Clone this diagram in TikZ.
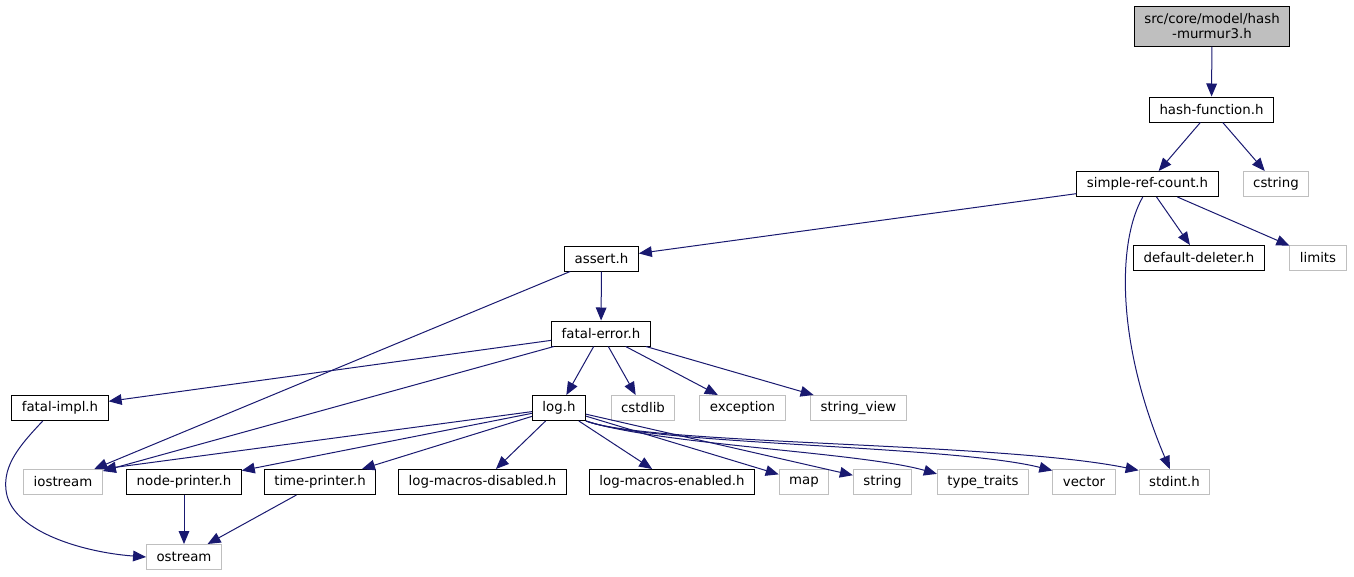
\documentclass[tikz,border=0pt]{standalone}
\usepackage{fontspec}
\setmainfont{DejaVu Sans}
\usepackage{tikz}
\usetikzlibrary{arrows.meta}
\definecolor{edgeblue}{RGB}{25,25,112}
\definecolor{sysgray}{RGB}{191,191,191}

\begin{document}
\begin{tikzpicture}[x=0.75pt, y=-0.75pt, font=\fontsize{10}{11.5}\selectfont,
    file/.style={draw=black, line width=0.75pt, inner xsep=7.5pt, inner ysep=0pt, minimum height=18.75pt},
    sysfile/.style={file, draw=sysgray},
    inc/.style={draw=edgeblue, line width=0.75pt, -{Triangle[length=9.75pt, width=8pt]}}]
    \useasboundingbox (0,0) rectangle (1354,576);

    % Header files
    \node[file, fill=sysgray, minimum height=30pt, align=center] (murmur) at (1212,26) {src/core/model/hash\\-murmur3.h};
    \node[file] (hashfn) at (1211.5,109.5) {hash-function.h};
    \node[file] (refcount) at (1147.5,184) {simple-ref-count.h};
    \node[sysfile] (cstring) at (1276,184) {cstring};
    \node[file] (deleter) at (1199,258) {default-deleter.h};
    \node[sysfile] (limits) at (1318,258) {limits};
    \node[file] (assert) at (601.5,258.5) {assert.h};
    \node[file] (fatalerr) at (601,333.5) {fatal-error.h};
    \node[file] (fatalimpl) at (60,408) {fatal-impl.h};
    \node[file] (logh) at (559,408) {log.h};
    \node[sysfile] (cstdlib) at (643,408) {cstdlib};
    \node[sysfile] (exception) at (742.5,408) {exception};
    \node[sysfile] (strview) at (858.5,408) {string\_view};
    \node[sysfile] (iostream) at (63,482) {iostream};
    \node[file] (nodeprinter) at (184,482) {node-printer.h};
    \node[file] (timeprinter) at (320,482) {time-printer.h};
    \node[file] (logdis) at (482.5,482) {log-macros-disabled.h};
    \node[file] (logen) at (672,482) {log-macros-enabled.h};
    \node[sysfile] (map) at (804,482) {map};
    \node[sysfile] (string) at (882.5,482) {string};
    \node[sysfile] (typetraits) at (983,482) {type\_traits};
    \node[sysfile] (vector) at (1084,482) {vector};
    \node[sysfile] (stdint) at (1174.5,482) {stdint.h};
    \node[sysfile] (ostream) at (184,557) {ostream};

    % Includes
    \draw[inc] (murmur) -- (hashfn);
    \foreach \t in {refcount, cstring}
        \draw[inc] (hashfn) -- (\t);
    \foreach \t in {assert, deleter, limits}
        \draw[inc] (refcount) -- (\t);
    \draw[inc] (refcount.250) .. controls (1118,240) and (1115,340) .. (stdint.110);
    \foreach \t in {fatalerr, iostream}
        \draw[inc] (assert) -- (\t);
    \foreach \t in {fatalimpl, iostream, logh, cstdlib, exception, strview}
        \draw[inc] (fatalerr) -- (\t);
    \draw[inc] (fatalimpl.217) .. controls (20,445) and (3,465) .. (6,490)
        .. controls (10,530) and (80,552) .. (ostream.west);

    % log.h fan-out
    \draw[inc] (logh) -- (iostream.north east);
    \foreach \t in {nodeprinter, timeprinter, logdis, logen, map, string}
        \draw[inc] (logh) -- (\t);
    \draw[inc] (logh.south east) .. controls (660,445) and (860,452) .. (typetraits.170);
    \draw[inc] (logh.south east) .. controls (650,445) and (950,445) .. (vector.160);
    \draw[inc] (logh.south east) .. controls (650,445) and (1000,442) .. (stdint.162);

    \foreach \t in {nodeprinter, timeprinter}
        \draw[inc] (\t) -- (ostream);
\end{tikzpicture}
\end{document}
